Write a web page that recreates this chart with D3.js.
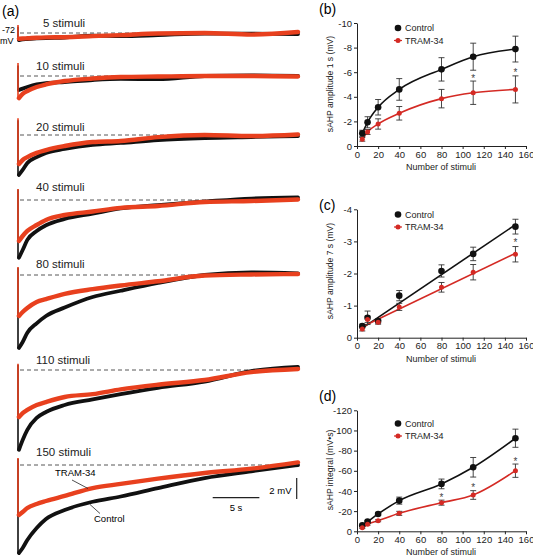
<!DOCTYPE html>
<html><head><meta charset="utf-8">
<script src="https://cdn.jsdelivr.net/npm/d3@7"></script>
<style>body{margin:0;background:#fff}svg{display:block;font-family:"Liberation Sans",Arial,sans-serif}</style>
</head><body><svg id="c" width="533" height="557"></svg>
<script>
// ---------- DATA ----------
// Panel (a): traces, time (s) vs membrane potential relative to -72 mV baseline (mV)
const traceLabels = ["5 stimuli","10 stimuli","20 stimuli","40 stimuli","80 stimuli","110 stimuli","150 stimuli"];
const traceTimes = [0, 0.1, 0.5, 1, 2, 3, 5, 8, 11, 15, 20, 25, 30];
const traceControl = [
  [0.6, -0.67, -0.6, -0.57, -0.52, -0.48, -0.43, -0.25, -0.3, -0.2, -0.05, -0.05, -0.1],
  [1.0, -1.33, -1.2, -1.05, -0.8, -0.67, -0.57, -0.38, -0.28, -0.3, 0, 0.05, 0],
  [1.4, -3.8, -3.33, -2.67, -2.1, -1.7, -1.33, -0.95, -0.76, -0.48, -0.29, -0.19, -0.1],
  [1.0, -5.5, -4.76, -3.8, -2.95, -2.4, -1.8, -1.3, -0.8, -0.48, -0.15, 0.14, 0.24],
  [0.7, -6.95, -6.38, -5.5, -4.6, -3.9, -3.1, -2.1, -1.5, -0.75, 0, 0.25, 0.15],
  [0.5, -7.6, -6.67, -5.7, -4.57, -4.0, -3.33, -2.8, -2.3, -1.7, -1.1, -0.1, 0.3],
  [0.6, -8.38, -7.9, -7.14, -6.0, -5.14, -4.29, -3.5, -3.0, -2.2, -1.24, -0.6, 0]
];
const traceTram = [
  [0.76, -0.55, -0.52, -0.5, -0.45, -0.42, -0.4, -0.3, -0.2, -0.05, 0, -0.15, 0.1],
  [1.24, -2.1, -1.7, -1.43, -1.05, -0.8, -0.48, -0.24, -0.1, -0.05, 0, 0, -0.05],
  [1.6, -2.76, -2.38, -2.1, -1.7, -1.43, -1.05, -0.67, -0.57, -0.2, 0, -0.1, 0.05],
  [1.05, -3.9, -3.43, -2.95, -2.38, -1.9, -1.43, -1.1, -0.75, -0.57, -0.19, -0.1, 0.05],
  [0.76, -3.9, -3.52, -3.14, -2.57, -2.3, -1.8, -1.35, -1.0, -0.6, -0.05, 0.05, 0.1],
  [0.6, -4.48, -4.1, -3.8, -3.33, -3.05, -2.57, -2.3, -1.85, -1.4, -0.95, -0.2, 0.1],
  [0.67, -4.76, -4.48, -4.1, -3.71, -3.43, -2.95, -2.2, -1.8, -1.3, -0.76, -0.35, 0.25]
];

// Panels (b)-(d)
const stimuli = [5, 10, 20, 40, 80, 110, 150];
const xTicks = [0, 20, 40, 60, 80, 100, 120, 140, 160];
const amp1Control = [-1.03, -1.93, -3.15, -4.6, -6.23, -7.26, -7.88];
const amp1ControlErr = [0.25, 0.45, 0.63, 0.88, 0.95, 1.1, 1.05];
const amp1Tram = [-0.54, -1.14, -1.79, -2.66, -3.85, -4.33, -4.6];
const amp1TramErr = [0.15, 0.2, 0.42, 0.55, 0.75, 0.95, 1.1];
const amp1Ticks = [0, -2, -4, -6, -8, -10];
const amp1Stars = [[110, -5.6], [150, -6.1]];

const amp7Control = [-0.36, -0.62, -0.52, -1.31, -2.08, -2.61, -3.46];
const amp7ControlErr = [0.06, 0.21, 0.06, 0.16, 0.19, 0.21, 0.23];
const amp7Tram = [-0.27, -0.57, -0.48, -0.96, -1.57, -2.04, -2.6];
const amp7TramErr = [0.06, 0.1, 0.06, 0.11, 0.15, 0.24, 0.24];
const amp7FitControl = [[5, -0.3], [150, -3.52]];
const amp7FitTram = [[5, -0.34], [150, -2.63]];
const amp7Ticks = [0, -1, -2, -3, -4];
const amp7Stars = [[150, -3.0]];

const intControl = [-5.9, -9.6, -17.2, -30.4, -47, -63.5, -92.3];
const intControlErr = [1, 1, 1.5, 3.5, 4.8, 9.7, 9];
const intTram = [-3.6, -6.9, -10.5, -17.8, -28.4, -36, -60.1];
const intTramErr = [0.8, 0.8, 1, 2, 2.5, 4.3, 6.6];
const intTicks = [0, -20, -40, -60, -80, -100, -120];
const intStars = [[80, -35], [110, -45], [150, -71]];

const seriesNames = ["Control", "TRAM-34"];

// ---------- STYLE ----------
const RED_TRACE = "#e8401e", BLACK = "#111", RED_LINE = "#d42a24";
const svg = d3.select("#c");

// ---------- PANEL (a) ----------
const baseY = [33, 76, 135, 200, 275, 370, 465];
const labelDy = [-6, -6, -4, -9, -7, -6, -9];
const xT = d3.scaleLinear().domain([0, 30]).range([18, 298]);
const mvPx = 10.5;

svg.append("text").attr("x", 2).attr("y", 16).attr("font-size", 14).text("(a)");
svg.append("text").attr("x", 15).attr("y", 33).attr("text-anchor", "end").attr("font-size", 9).text("-72");
svg.append("text").attr("x", 0).attr("y", 44).attr("font-size", 9).text("mV");

traceLabels.forEach((lab, i) => {
  const yT = d3.scaleLinear().domain([0, 1]).range([baseY[i], baseY[i] - mvPx]);
  const g = svg.append("g");
  g.append("line").attr("x1", 20).attr("x2", 298).attr("y1", yT(0)).attr("y2", yT(0))
    .attr("stroke", "#444").attr("stroke-width", 0.9).attr("stroke-dasharray", "4,3");
  g.append("text").attr("x", i === 0 ? 43 : 36).attr("y", baseY[i] + labelDy[i])
    .attr("font-size", 11.5).attr("fill", "#222").text(lab);
  const line = d3.line().x(d => xT(d[0])).y(d => yT(d[1])).curve(d3.curveMonotoneX);
  [[traceControl[i], BLACK, 3.8], [traceTram[i], RED_TRACE, 4.4]].forEach(([vals, col, w]) => {
    const pts = traceTimes.map((t, k) => [t, vals[k]]);
    g.append("line").attr("x1", xT(0)).attr("x2", xT(0)).attr("y1", yT(vals[0])).attr("y2", yT(vals[1]))
      .attr("stroke", col).attr("stroke-width", 1.6);
    g.append("path").attr("d", line(pts.slice(1))).attr("fill", "none").attr("stroke", col)
      .attr("stroke-width", w).attr("stroke-linejoin", "round").attr("stroke-linecap", "round");
  });
});
// annotations on the last trace
svg.append("text").attr("x", 55).attr("y", 476).attr("font-size", 9.5).text("TRAM-34");
svg.append("line").attr("x1", 72).attr("y1", 480).attr("x2", 88).attr("y2", 488.5).attr("stroke", "#222").attr("stroke-width", 0.8);
svg.append("text").attr("x", 94).attr("y", 522).attr("font-size", 9.5).text("Control");
svg.append("line").attr("x1", 100).attr("y1", 513.5).attr("x2", 90).attr("y2", 504.5).attr("stroke", "#222").attr("stroke-width", 0.8);
// scale bars
svg.append("line").attr("x1", 212.7).attr("x2", 212.7 + (xT(5) - xT(0))).attr("y1", 497.7).attr("y2", 497.7).attr("stroke", "#222").attr("stroke-width", 1.2);
svg.append("text").attr("x", 236).attr("y", 511).attr("text-anchor", "middle").attr("font-size", 9.5).text("5 s");
svg.append("line").attr("x1", 296.7).attr("x2", 296.7).attr("y1", 499).attr("y2", 499 - 2 * mvPx).attr("stroke", "#222").attr("stroke-width", 1.2);
svg.append("text").attr("x", 291.5).attr("y", 494).attr("text-anchor", "end").attr("font-size", 9.5).text("2 mV");

// ---------- PANELS (b)-(d) ----------
function panel(cfg) {
  const x = d3.scaleLinear().domain([0, 160]).range([357, 526]);
  const y = d3.scaleLinear().domain([0, cfg.ticks[cfg.ticks.length - 1]]).range([cfg.y0, cfg.yTop]);
  const g = svg.append("g");
  g.append("text").attr("x", 319).attr("y", cfg.labelY).attr("font-size", 14).text(cfg.letter);
  g.append("text").attr("transform", `translate(333,${cfg.ylabY}) rotate(-90)`).attr("text-anchor", "middle")
    .attr("font-size", 8.6).attr("fill", "#222").text(cfg.ylabel);
  const ax = g.append("g").attr("transform", `translate(0,${cfg.y0})`)
    .call(d3.axisBottom(x).tickValues(xTicks).tickSize(3).tickSizeOuter(0).tickPadding(2).tickFormat(d => String(d)));
  const ay = g.append("g").attr("transform", "translate(357,0)")
    .call(d3.axisLeft(y).tickValues(cfg.ticks).tickSize(3).tickSizeOuter(0).tickPadding(2).tickFormat(d => String(d)));
  [ax, ay].forEach(a => {
    a.selectAll("text").attr("font-size", 9.5).attr("fill", "#222").attr("font-family", "Liberation Sans, Arial");
    a.selectAll("path,line").attr("stroke", "#222");
  });
  g.append("text").attr("x", 441).attr("y", cfg.y0 + 24).attr("text-anchor", "middle").attr("font-size", 9).attr("fill", "#222").text("Number of stimuli");

  const ser = [
    {vals: cfg.control, err: cfg.controlErr, col: BLACK, r: 3.3, fit: cfg.fitControl},
    {vals: cfg.tram, err: cfg.tramErr, col: RED_LINE, r: 2.5, fit: cfg.fitTram}
  ];
  const line = d3.line().x(d => x(d[0])).y(d => y(d[1])).curve(d3.curveMonotoneX);
  ser.forEach(s => {
    const pts = s.fit ? s.fit : stimuli.map((n, k) => [n, s.vals[k]]);
    g.append("path").attr("d", line(pts)).attr("fill", "none").attr("stroke", s.col).attr("stroke-width", 1.6);
  });
  ser.forEach(s => {
    stimuli.forEach((n, k) => {
      const cx = x(n), lo = y(s.vals[k] - s.err[k]), hi = y(s.vals[k] + s.err[k]);
      g.append("line").attr("x1", cx).attr("x2", cx).attr("y1", lo).attr("y2", hi).attr("stroke", "#333").attr("stroke-width", 0.9);
      [lo, hi].forEach(yy => g.append("line").attr("x1", cx - 3).attr("x2", cx + 3).attr("y1", yy).attr("y2", yy).attr("stroke", "#333").attr("stroke-width", 0.9));
    });
  });
  ser.forEach(s => {
    g.selectAll(null).data(stimuli).enter().append("circle")
      .attr("cx", d => x(d)).attr("cy", (d, k) => y(s.vals[k])).attr("r", s.r).attr("fill", s.col);
  });
  cfg.stars.forEach(([n, v]) => g.append("text").attr("x", x(n)).attr("y", y(v) + 5).attr("text-anchor", "middle")
    .attr("font-size", 10).attr("fill", "#444").text("*"));
  // legend
  const lg = [[BLACK, 3.3], [RED_LINE, 2.5]];
  seriesNames.forEach((nm, k) => {
    const ly = cfg.legY + k * 12.5;
    if (k === 1) g.append("line").attr("x1", 394).attr("x2", 402).attr("y1", ly).attr("y2", ly).attr("stroke", RED_LINE).attr("stroke-width", 1.2);
    g.append("circle").attr("cx", 398).attr("cy", ly).attr("r", lg[k][1]).attr("fill", lg[k][0]);
    g.append("text").attr("x", 405).attr("y", ly + 3.3).attr("font-size", 9).attr("fill", "#222").text(nm);
  });
}

panel({letter: "(b)", labelY: 14, ylabel: "sAHP amplitude 1 s (mV)", ylabY: 84, y0: 146, yTop: 23,
  ticks: amp1Ticks, control: amp1Control, controlErr: amp1ControlErr, tram: amp1Tram, tramErr: amp1TramErr,
  stars: amp1Stars, legY: 28});
panel({letter: "(c)", labelY: 210, ylabel: "sAHP amplitude 7 s (mV)", ylabY: 271, y0: 337.7, yTop: 209.3,
  ticks: amp7Ticks, control: amp7Control, controlErr: amp7ControlErr, tram: amp7Tram, tramErr: amp7TramErr,
  fitControl: amp7FitControl, fitTram: amp7FitTram, stars: amp7Stars, legY: 214.5});
panel({letter: "(d)", labelY: 401, ylabel: "sAHP integral (mV\u2022s)", ylabY: 470, y0: 531.3, yTop: 410.3,
  ticks: intTicks, control: intControl, controlErr: intControlErr, tram: intTram, tramErr: intTramErr,
  stars: intStars, legY: 423.5});
</script></body></html>
